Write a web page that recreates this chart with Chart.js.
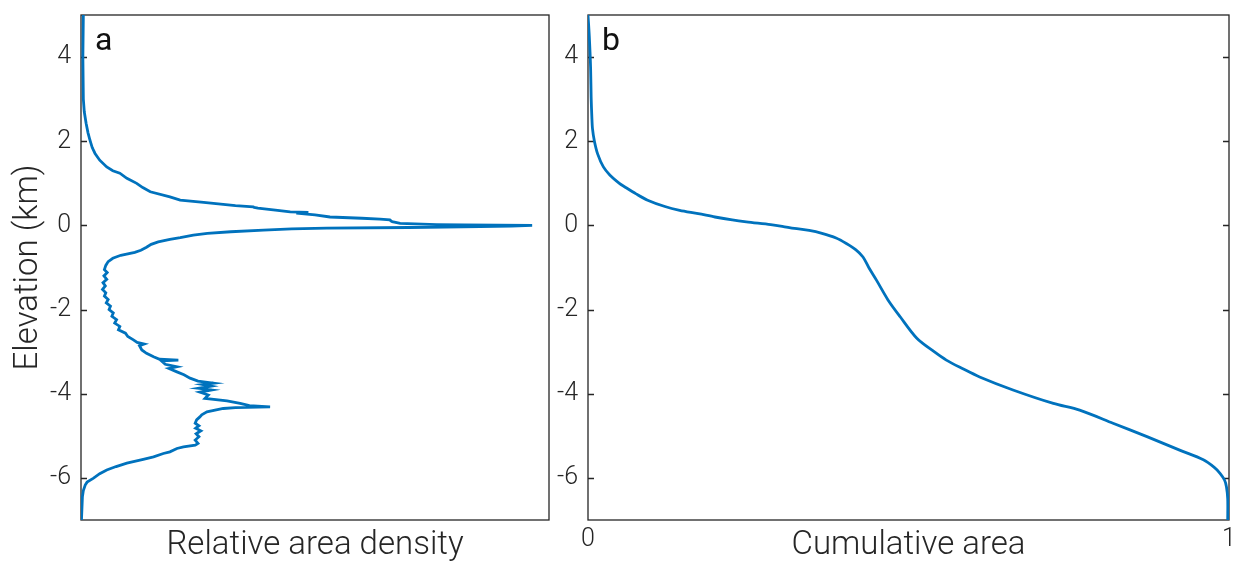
<!DOCTYPE html>
<html>
<head>
<meta charset="utf-8">
<script src="https://cdn.jsdelivr.net/npm/chart.js@4.4.1/dist/chart.umd.min.js"></script>
<style>
  html, body { margin: 0; padding: 0; background: #fff; }
  #wrap { position: relative; width: 1239px; height: 563px; overflow: hidden; }
  canvas { position: absolute; top: 0; }
  #canvas { left: 0; }
  #canvas2 { left: 515px; }
</style>
</head>
<body>
<div id="wrap">
  <canvas id="canvas" width="560" height="563"></canvas>
  <canvas id="canvas2" width="724" height="563"></canvas>
</div>
<script>
// panel a: relative area density (hypsometry) vs elevation
const elevA = [5, 4, 3, 2.7, 2.42, 2.2, 2.03, 1.85, 1.71, 1.55, 1.39, 1.3, 1.24, 1.12, 1.0, 0.9, 0.8, 0.68, 0.6, 0.55,
  0.47, 0.44, 0.43, 0.41, 0.36, 0.32, 0.31, 0.30, 0.29, 0.25, 0.2, 0.17, 0.15, 0.13, 0.11, 0.09, 0.05, 0.02, 0.01, 0,
  -0.015, -0.03, -0.05, -0.065, -0.08, -0.11, -0.15, -0.19, -0.23, -0.29, -0.33, -0.39, -0.45, -0.52, -0.59, -0.64,
  -0.71, -0.78, -0.86, -0.95, -1.05, -1.12, -1.2, -1.28, -1.36, -1.44, -1.52, -1.6, -1.68, -1.76, -1.84, -1.92, -2.0,
  -2.08, -2.16, -2.24, -2.32, -2.4, -2.48, -2.56, -2.64, -2.72, -2.78, -2.82, -2.86, -2.96, -3.04, -3.12, -3.18, -3.2,
  -3.22, -3.3, -3.36, -3.4, -3.48, -3.55, -3.63, -3.7, -3.75, -3.78, -3.82, -3.87, -3.91, -3.96, -4.03, -4.11, -4.17,
  -4.23, -4.28, -4.31, -4.33, -4.35, -4.43, -4.5, -4.55, -4.62, -4.7, -4.76, -4.82, -4.88, -4.95, -5.02, -5.1, -5.18,
  -5.22, -5.26, -5.3, -5.38, -5.42, -5.5, -5.56, -5.65, -5.73, -5.81, -5.9, -6.01, -6.1, -6.17, -6.3, -6.45, -7];
const densA = [0.005, 0.004, 0.005, 0.007, 0.011, 0.015, 0.019, 0.024, 0.03, 0.04, 0.055, 0.068, 0.083, 0.098, 0.119,
  0.132, 0.148, 0.19, 0.212, 0.262, 0.33, 0.368, 0.37, 0.378, 0.42, 0.447, 0.483, 0.483, 0.46, 0.5, 0.532, 0.6, 0.639,
  0.66, 0.662, 0.665, 0.682, 0.76, 0.82, 0.964, 0.92, 0.853, 0.7, 0.525, 0.45, 0.39, 0.32, 0.27, 0.24, 0.212, 0.19,
  0.165, 0.15, 0.14, 0.128, 0.115, 0.085, 0.068, 0.058, 0.053, 0.05, 0.056, 0.049, 0.055, 0.047, 0.052, 0.046, 0.053,
  0.05, 0.058, 0.054, 0.063, 0.06, 0.069, 0.066, 0.076, 0.072, 0.083, 0.08, 0.095, 0.1, 0.112, 0.12, 0.135, 0.125,
  0.13, 0.14, 0.155, 0.168, 0.208, 0.172, 0.18, 0.205, 0.188, 0.205, 0.22, 0.233, 0.25, 0.283, 0.26, 0.278, 0.251,
  0.279, 0.254, 0.272, 0.265, 0.312, 0.34, 0.36, 0.404, 0.33, 0.304, 0.269, 0.258, 0.254, 0.247, 0.244, 0.252, 0.245,
  0.256, 0.246, 0.252, 0.244, 0.25, 0.244, 0.219, 0.205, 0.19, 0.176, 0.155, 0.133, 0.098, 0.075, 0.055, 0.04, 0.026,
  0.013, 0.009, 0.005, 0.003, 0.001];

// panel b: cumulative area vs elevation
const elevB = [5, 4.5, 3.77, 3, 2.58, 2.3, 2, 1.7, 1.39, 1.2, 1, 0.92, 0.75, 0.6, 0.45, 0.36, 0.28, 0.2, 0.13, 0.085,
  0.02, -0.02, -0.07, -0.12, -0.19, -0.3, -0.43, -0.58, -0.75, -1, -1.3, -1.77, -2.17, -2.68, -3, -3.2, -3.4, -3.6,
  -3.91, -4.23, -4.39, -4.7, -5.02, -5.34, -5.57, -5.75, -5.89, -6.05, -6.21, -6.5, -7];
const cumB = [0, 0.002, 0.004, 0.005, 0.006, 0.007, 0.01, 0.015, 0.024, 0.034, 0.049, 0.057, 0.075, 0.093, 0.12, 0.143,
  0.172, 0.198, 0.225, 0.247, 0.285, 0.303, 0.322, 0.345, 0.365, 0.387, 0.403, 0.418, 0.429, 0.438, 0.45, 0.468, 0.487,
  0.513, 0.54, 0.559, 0.584, 0.611, 0.663, 0.726, 0.767, 0.819, 0.872, 0.923, 0.96, 0.977, 0.986, 0.993, 0.996, 0.998,
  0.998];

const elevTicks = [-6, -4, -2, 0, 2, 4];
const cumTicks = [0, 1];

const FONT = 'Roboto, "Liberation Sans", sans-serif';
const INK = '#262626';
const BLUE = '#0072BD';

// box, inward y ticks and the panel letter, drawn under the curve
const framePlugin = {
  id: 'frame',
  beforeDatasetsDraw(chart, args, opts) {
    const {ctx, chartArea: a} = chart;
    const y = chart.scales.y;
    ctx.save();
    ctx.strokeStyle = INK;
    ctx.lineWidth = 1.3;
    ctx.strokeRect(a.left, a.top, a.right - a.left, a.bottom - a.top);
    ctx.beginPath();
    y.ticks.forEach(t => {
      const py = Math.round(y.getPixelForValue(t.value)) + 0.5;
      ctx.moveTo(a.left, py);
      ctx.lineTo(a.left + 6, py);
      if (opts.rightTicks) {
        ctx.moveTo(a.right, py);
        ctx.lineTo(a.right - 6, py);
      }
    });
    ctx.stroke();
    ctx.fillStyle = '#111';
    ctx.font = '32px ' + FONT;
    ctx.textBaseline = 'alphabetic';
    ctx.fillText(opts.letter, a.left + 14, a.top + 35);
    ctx.restore();
  }
};

const makeChart = (canvas, xs, ys, cfg) => new Chart(canvas, {
  type: 'scatter',
  data: {
    datasets: [{
      data: xs.map((x, i) => ({x: x, y: ys[i]})),
      showLine: true,
      borderColor: BLUE,
      backgroundColor: BLUE,
      borderWidth: 2.8,
      pointRadius: 0,
      tension: cfg.tension
    }]
  },
  options: {
    responsive: false,
    animation: false,
    layout: {padding: {top: 15, right: cfg.padRight, left: 0, bottom: 0}},
    plugins: {
      legend: {display: false},
      tooltip: {enabled: false},
      frame: {letter: cfg.letter, rightTicks: cfg.rightTicks}
    },
    scales: {
      x: {
        type: 'linear', min: 0, max: 1,
        grid: {display: false, drawTicks: false}, border: {display: false},
        afterBuildTicks: s => { s.ticks = cfg.xTicks.map(v => ({value: v})); },
        ticks: {display: cfg.xTicks.length > 0, color: INK, padding: 5, maxRotation: 0,
          font: {family: FONT, size: 25, weight: '300'}},
        title: {display: true, text: cfg.xTitle, color: INK, padding: {top: 0, bottom: -3},
          font: {family: FONT, size: 33, weight: '300'}},
        afterFit: s => {
          s.height = 43;
          s.paddingLeft = 0;
          s.paddingRight = 0;
        }
      },
      y: {
        type: 'linear', min: -7, max: 5,
        grid: {display: false, drawTicks: false}, border: {display: false},
        afterBuildTicks: s => { s.ticks = elevTicks.map(v => ({value: v})); },
        ticks: {color: INK, padding: 10, font: {family: FONT, size: 25, weight: '300'}},
        title: {display: cfg.yTitle !== '', text: cfg.yTitle, color: INK, padding: {top: 9, bottom: 0},
          font: {family: FONT, size: 33, weight: '300'}},
        afterFit: s => {
          s.width = cfg.yWidth;
          s.paddingTop = 0;
          s.paddingBottom = 0;
        }
      }
    }
  },
  plugins: [framePlugin]
});

makeChart(document.getElementById('canvas'), densA, elevA, {
  letter: 'a', rightTicks: false, tension: 0, padRight: 11, yWidth: 81,
  xTicks: [], xTitle: 'Relative area density', yTitle: 'Elevation (km)'
});

makeChart(document.getElementById('canvas2'), cumB, elevB, {
  letter: 'b', rightTicks: true, tension: 0.3, padRight: 10, yWidth: 73,
  xTicks: cumTicks, xTitle: 'Cumulative area', yTitle: ''
});
</script>
</body>
</html>
